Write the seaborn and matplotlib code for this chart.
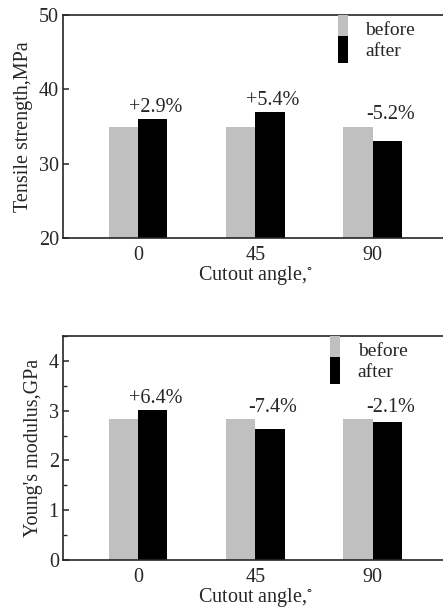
import numpy as np
import pandas as pd
import matplotlib
matplotlib.use('Agg')
import matplotlib.pyplot as plt
from matplotlib.patches import Patch
from matplotlib.ticker import MultipleLocator
import seaborn as sns

# data
angles = ['0', '45', '90']
states = ['before', 'after']
strength_before = [35.0, 35.0, 35.0]
strength_after = [36.0, 36.9, 33.1]
strength_change = ['+2.9%', '+5.4%', '-5.2%']
modulus_before = [2.84, 2.84, 2.84]
modulus_after = [3.02, 2.63, 2.78]
modulus_change = ['+6.4%', '-7.4%', '-2.1%']

colors = {'before': '#c0c0c0', 'after': '#000000'}

sns.set_style('ticks')
plt.rcParams['font.family'] = ['Liberation Serif', 'DejaVu Serif']
plt.rcParams['mathtext.fontset'] = 'stix'
FS = 14.5


def long_df(before, after):
    return pd.DataFrame({
        'angle': angles * 2,
        'state': ['before'] * 3 + ['after'] * 3,
        'value': list(before) + list(after),
    })


def draw_panel(ax, before, after, changes, ylabel, ylim, major, minor, leg_x):
    df = long_df(before, after)
    sns.barplot(data=df, x='angle', y='value', hue='state', order=angles,
                hue_order=states, palette=colors, width=0.5, saturation=1,
                linewidth=0, legend=False, ax=ax)
    ax.set_xlim(-0.64, 2.65)
    ax.set_ylim(*ylim)
    ax.yaxis.set_major_locator(MultipleLocator(major))
    if minor:
        ax.yaxis.set_minor_locator(MultipleLocator(minor))
    ax.tick_params(axis='y', direction='in', length=4.5, width=1.1,
                   labelsize=FS, pad=3)
    ax.tick_params(axis='y', which='minor', direction='in', length=3, width=1.0)
    ax.tick_params(axis='x', length=0, labelsize=FS, pad=6)
    for side in ['left', 'bottom', 'top', 'right']:
        ax.spines[side].set_visible(True)
        ax.spines[side].set_linewidth(1.2)
    ax.set_xlabel(r'Cutout angle,$^{\circ}$', fontsize=FS, labelpad=-1)
    ax.set_ylabel(ylabel, fontsize=FS, labelpad=4)

    # percentage change labels above each group
    for i, txt in enumerate(changes):
        top = max(before[i], after[i])
        ax.annotate(txt, xy=(i + 0.15, top), xytext=(0, 1.5),
                    textcoords='offset points', ha='center', va='bottom',
                    fontsize=FS)

    handles = [Patch(facecolor=colors[s], edgecolor='none') for s in states]
    ax.legend(handles, states, loc='upper left', bbox_to_anchor=(leg_x, 1.0),
              frameon=False, fontsize=14, handlelength=0.52, handleheight=1.77,
              handletextpad=0.9, labelspacing=-0.31, borderpad=0,
              borderaxespad=0)


fig = plt.figure(figsize=(4.43, 6.10), dpi=100)
ax1 = fig.add_axes([0.1422, 0.6098, 0.8713, 0.3656])
ax2 = fig.add_axes([0.1422, 0.0820, 0.8713, 0.3672])

draw_panel(ax1, strength_before, strength_after, strength_change,
           'Tensile strength,MPa', (20, 50), 10, None, 0.712)
draw_panel(ax2, modulus_before, modulus_after, modulus_change,
           "Young's modulus,GPa", (0, 4.5), 1, 0.5, 0.692)

fig.savefig('out.png', dpi=100)
plt.close(fig)
